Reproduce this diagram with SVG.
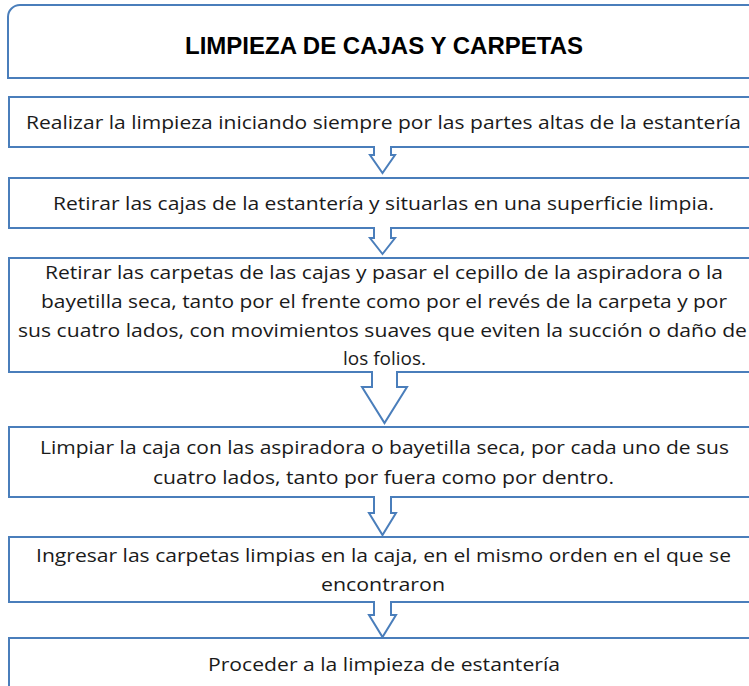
<svg xmlns="http://www.w3.org/2000/svg" width="749" height="686" viewBox="0 0 749 686">
<style>
.box{fill:#ffffff;stroke:#4A7EBB;stroke-width:2}
.arrow{fill:#ffffff;stroke:#4A7EBB;stroke-width:2;stroke-linejoin:miter}
.cover{fill:#ffffff;stroke:none}
.t{font-family:"Open Sans","Liberation Sans",sans-serif;font-size:19px;fill:#1a1a1a;text-anchor:middle}
.title{font-family:"Liberation Sans",Arial,sans-serif;font-size:24px;font-weight:bold;fill:#000000;text-anchor:middle}
</style>
<rect width="749" height="686" fill="#ffffff"/>
<g id="title">
<path class="box" d="M8,78 L8,17 A12,12 0 0 1 20,5 L762,5 L762,78 Z"/>
<text class="title" x="384" y="54" textLength="398" lengthAdjust="spacingAndGlyphs">LIMPIEZA DE CAJAS Y CARPETAS</text>
</g>
<g id="step1">
<rect class="box" x="9" y="97" width="753" height="50"/>
<text class="t" x="383.5" y="129" textLength="715" lengthAdjust="spacingAndGlyphs">Realizar la limpieza iniciando siempre por las partes altas de la estantería</text>
</g>
<g id="step2">
<rect class="box" x="9" y="178" width="753" height="50"/>
<text class="t" x="383.5" y="210" textLength="661" lengthAdjust="spacingAndGlyphs">Retirar las cajas de la estantería y situarlas en una superficie limpia.</text>
</g>
<g id="step3">
<rect class="box" x="9" y="258" width="753" height="114"/>
<text class="t" x="384" y="279" textLength="678" lengthAdjust="spacingAndGlyphs">Retirar las carpetas de las cajas y pasar el cepillo de la aspiradora o la</text>
<text class="t" x="384" y="308" textLength="686" lengthAdjust="spacingAndGlyphs">bayetilla seca, tanto por el frente como por el revés de la carpeta y por</text>
<text class="t" x="382.5" y="337" textLength="729" lengthAdjust="spacingAndGlyphs">sus cuatro lados, con movimientos suaves que eviten la succión o daño de</text>
<text class="t" x="384.5" y="365" textLength="83" lengthAdjust="spacingAndGlyphs">los folios.</text>
</g>
<g id="step4">
<rect class="box" x="9" y="427" width="753" height="70"/>
<text class="t" x="384.5" y="454" textLength="689" lengthAdjust="spacingAndGlyphs">Limpiar la caja con las aspiradora o bayetilla seca, por cada uno de sus</text>
<text class="t" x="383.5" y="484" textLength="461" lengthAdjust="spacingAndGlyphs">cuatro lados, tanto por fuera como por dentro.</text>
</g>
<g id="step5">
<rect class="box" x="9" y="537" width="753" height="65"/>
<text class="t" x="383.5" y="562" textLength="695" lengthAdjust="spacingAndGlyphs">Ingresar las carpetas limpias en la caja, en el mismo orden en el que se</text>
<text class="t" x="383" y="591" textLength="124" lengthAdjust="spacingAndGlyphs">encontraron</text>
</g>
<g id="step6">
<rect class="box" x="9" y="638" width="753" height="60"/>
<text class="t" x="384" y="671" textLength="352" lengthAdjust="spacingAndGlyphs">Proceder a la limpieza de estantería</text>
</g>
<g id="connectors">
<rect class="cover" x="375" y="144" width="15" height="6"/>
<path class="arrow" d="M374,147 L374,155 L370,155 L382.5,173 L395,155 L391,155 L391,147"/>
<rect class="cover" x="375" y="225" width="15" height="6"/>
<path class="arrow" d="M374,228 L374,238 L370,238 L382.5,254 L395,238 L391,238 L391,228"/>
<rect class="cover" x="373" y="369" width="23" height="6"/>
<path class="arrow" d="M372,372 L372,387 L362,387 L384.5,423 L407,387 L397,387 L397,372"/>
<rect class="cover" x="375" y="494" width="15" height="6"/>
<path class="arrow" d="M374,497 L374,513 L369,513 L382.5,535 L396,513 L391,513 L391,497"/>
<rect class="cover" x="375" y="599" width="15" height="6"/>
<path class="arrow" d="M374,602 L374,615 L369,615 L382.5,637 L396,615 L391,615 L391,602"/>
</g>
</svg>
